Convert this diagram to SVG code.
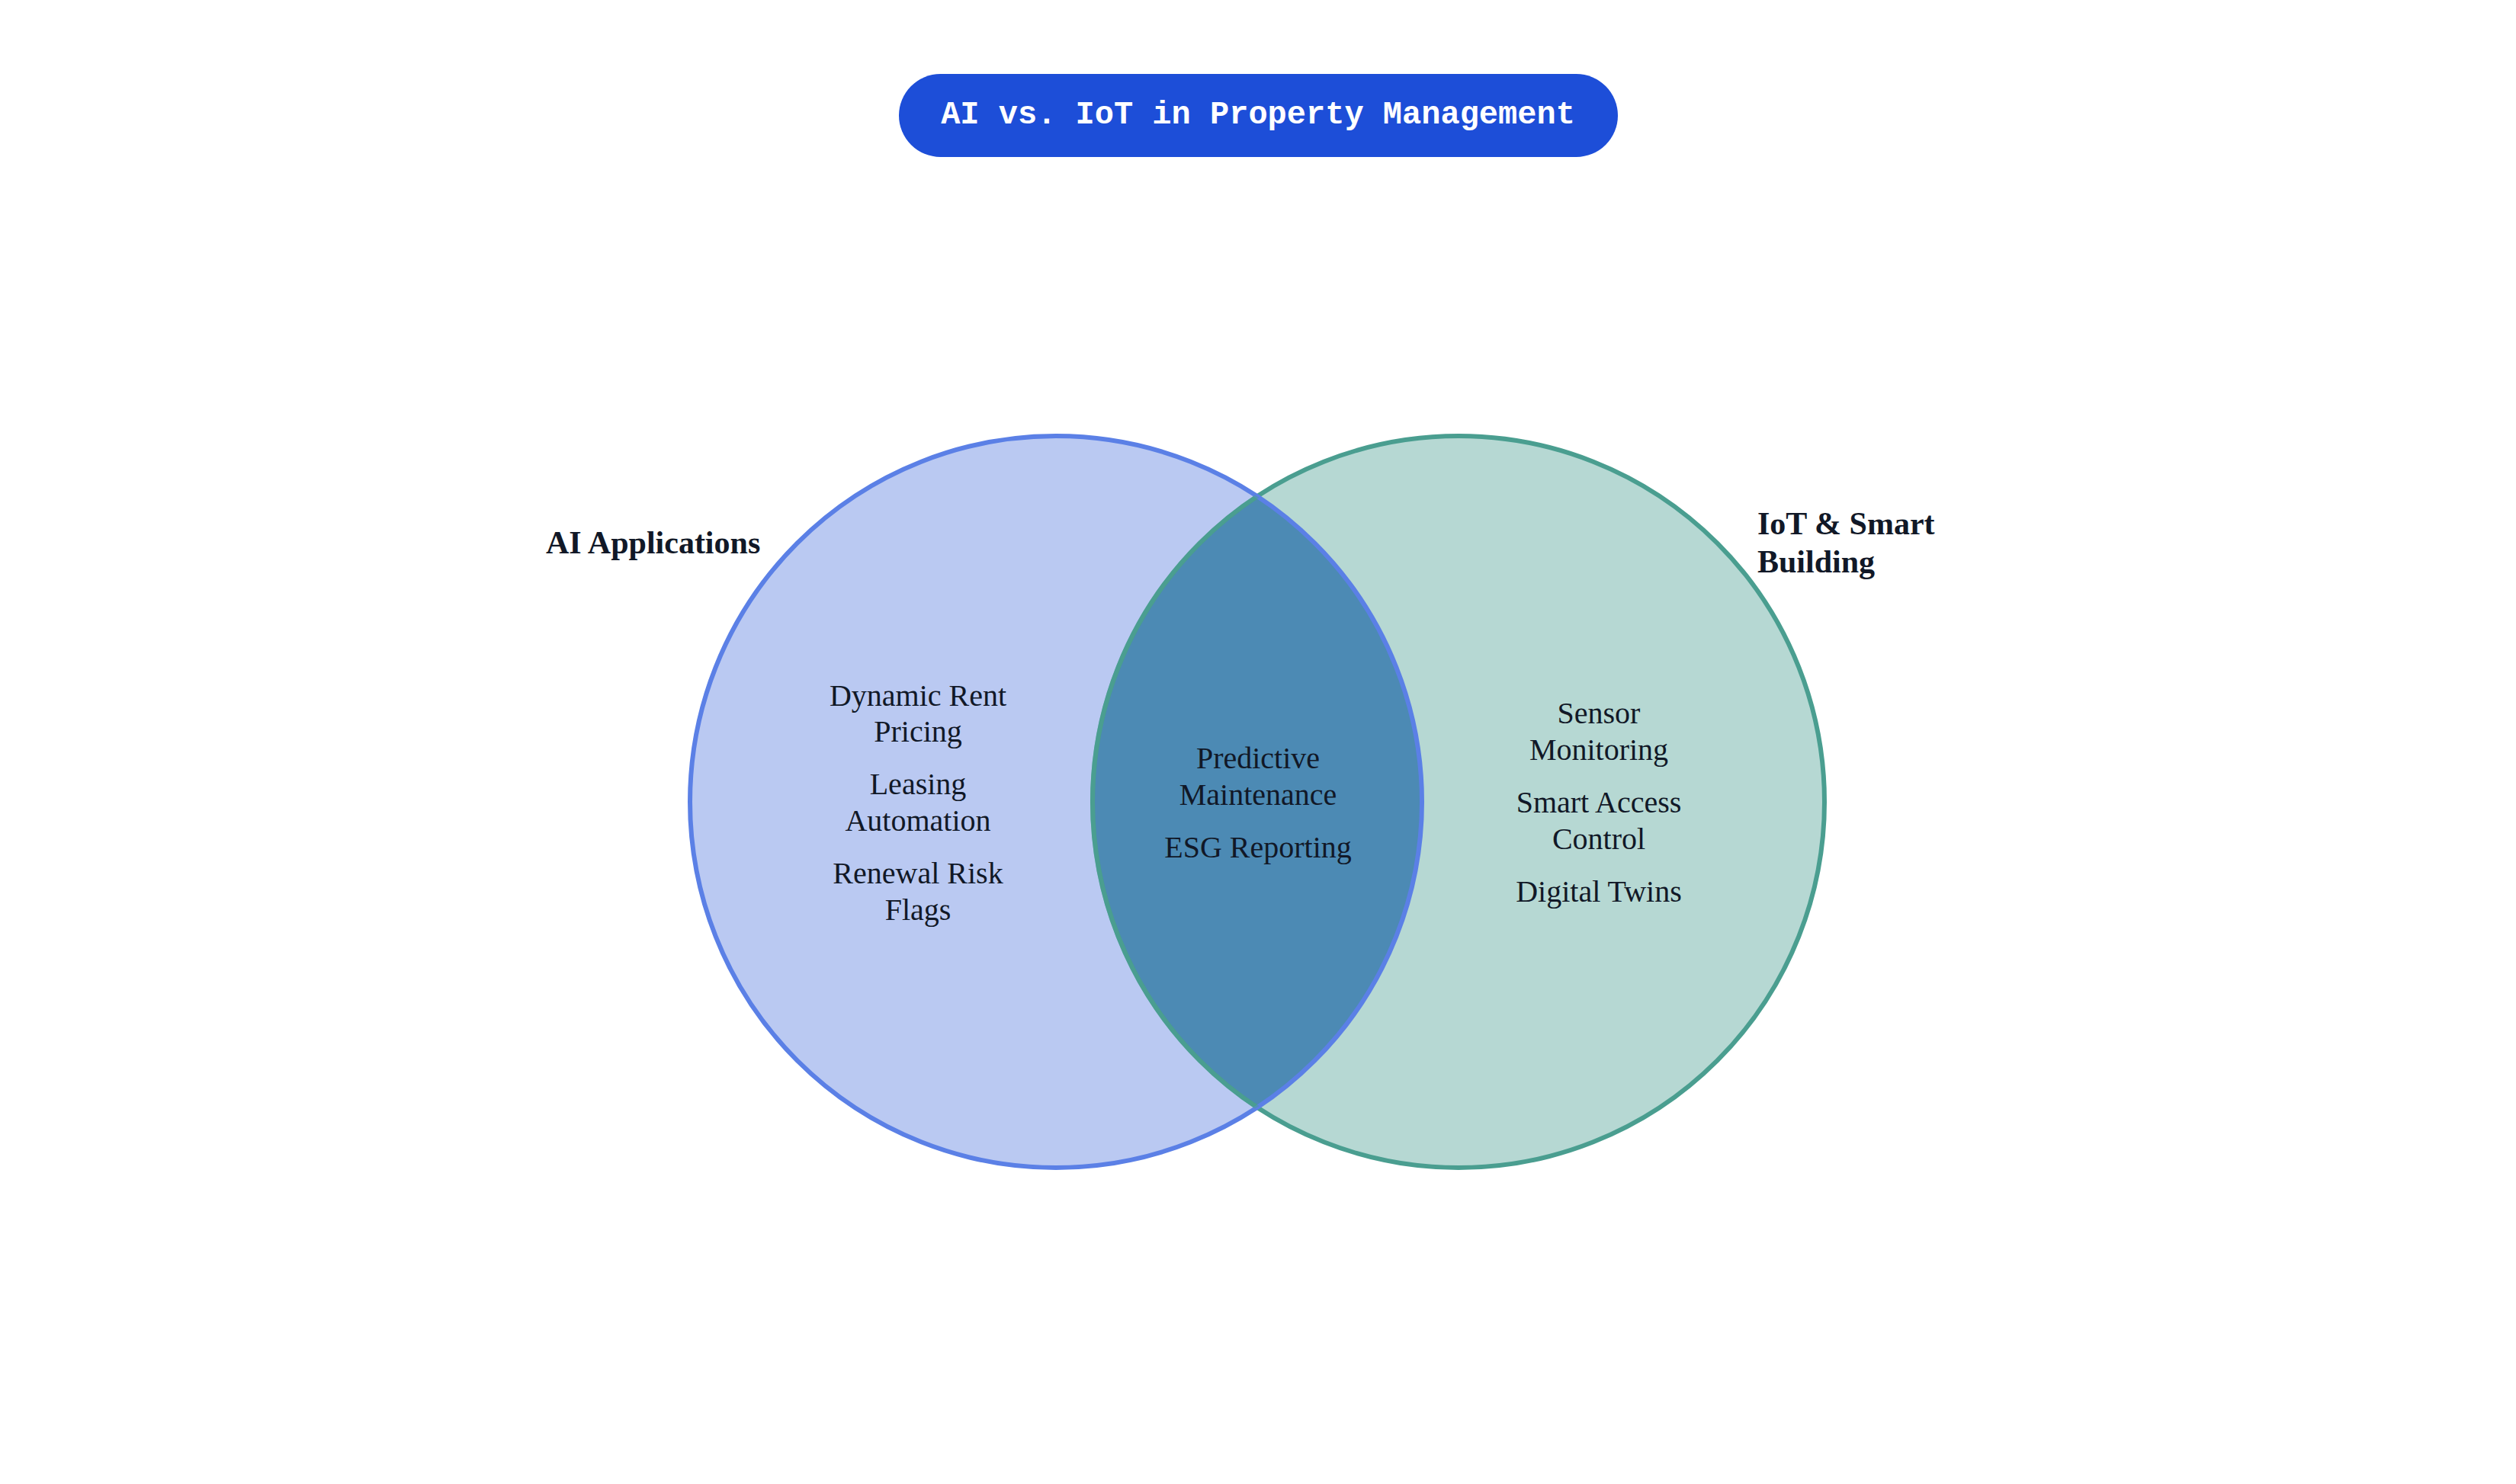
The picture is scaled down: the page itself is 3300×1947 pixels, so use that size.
<svg xmlns="http://www.w3.org/2000/svg" width="3300" height="1947" viewBox="0 0 3300 1947">
<style>
.item{font-family:"Liberation Serif","Times New Roman",serif;font-size:40px;fill:#111827;text-anchor:middle}
.set{font-family:"Liberation Serif","Times New Roman",serif;font-size:42px;font-weight:bold;fill:#111827}
.title{font-family:"Liberation Mono","DejaVu Sans Mono",monospace;font-size:42px;font-weight:bold;fill:#ffffff;text-anchor:middle}
</style>
<defs>
<clipPath id="clipL"><circle cx="1385" cy="1052" r="480"/></clipPath>
</defs>
<rect width="3300" height="1947" fill="#ffffff"/>
<g id="title">
<rect x="1179" y="97" width="943" height="109" rx="54.5" fill="#1D4ED8"/>
<text class="title" x="1650" y="162">AI vs. IoT in Property Management</text>
</g>
<g id="setA">
<circle cx="1385" cy="1052" r="480" fill="#BAC9F2"/>
</g>
<g id="setB">
<circle cx="1913" cy="1052" r="480" fill="#B6D8D3"/>
</g>
<g id="overlap">
<circle cx="1913" cy="1052" r="480" fill="#4C8AB4" clip-path="url(#clipL)"/>
</g>
<g id="outlines" fill="none" stroke-width="6">
<circle cx="1913" cy="1052" r="480" stroke="#4A9E90"/>
<circle cx="1385" cy="1052" r="480" stroke="#5B80E6"/>
<circle cx="1913" cy="1052" r="480" stroke="#4A9E90" stroke-opacity="0.5" clip-path="url(#clipL)"/>
</g>
<g id="labelA"><text class="set" x="716" y="726">AI Applications</text></g>
<g id="labelB"><text class="set" x="2305" y="701">IoT &amp; Smart</text><text class="set" x="2305" y="751">Building</text></g>
<g id="itemsA">
<text class="item" x="1204" y="926">Dynamic Rent</text>
<text class="item" x="1204" y="973">Pricing</text>
<text class="item" x="1204" y="1042">Leasing</text>
<text class="item" x="1204" y="1090">Automation</text>
<text class="item" x="1204" y="1159">Renewal Risk</text>
<text class="item" x="1204" y="1207">Flags</text>
</g>
<g id="itemsAB">
<text class="item" x="1650" y="1008">Predictive</text>
<text class="item" x="1650" y="1056">Maintenance</text>
<text class="item" x="1650" y="1125">ESG Reporting</text>
</g>
<g id="itemsB">
<text class="item" x="2097" y="949">Sensor</text>
<text class="item" x="2097" y="997">Monitoring</text>
<text class="item" x="2097" y="1066">Smart Access</text>
<text class="item" x="2097" y="1114">Control</text>
<text class="item" x="2097" y="1183">Digital Twins</text>
</g>
</svg>
